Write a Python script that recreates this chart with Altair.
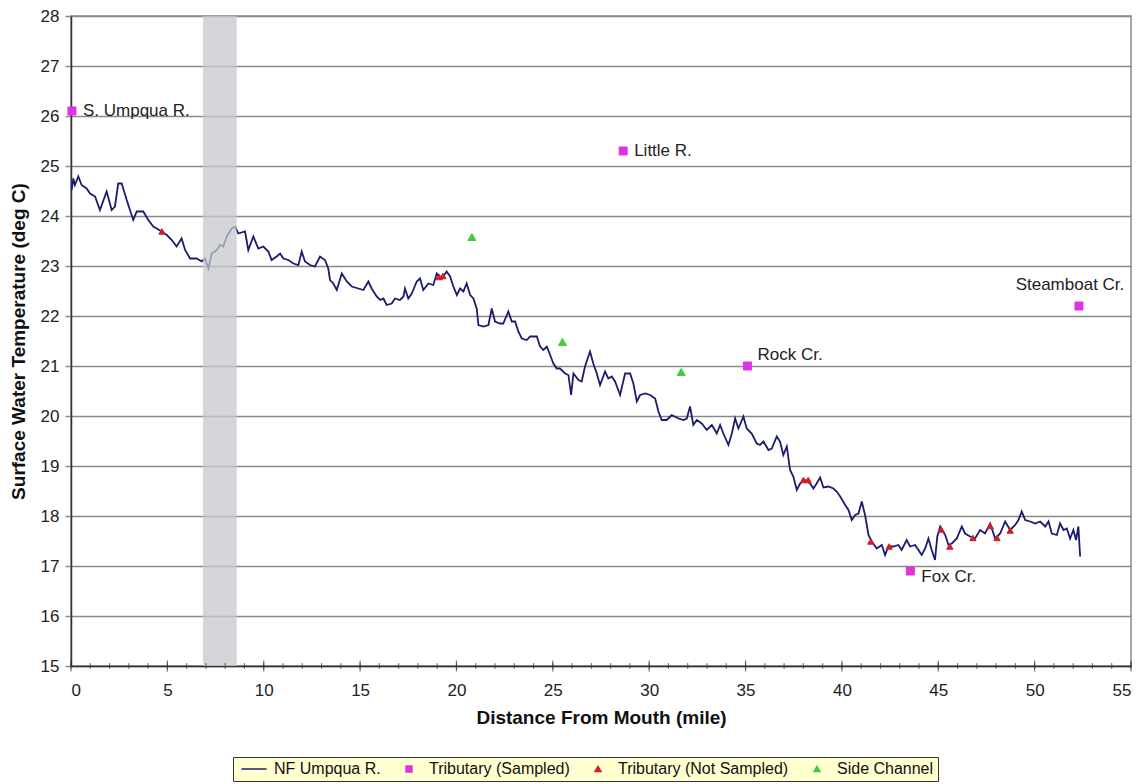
import altair as alt
import pandas as pd

# Longitudinal surface temperature profile along the NF Umpqua (river mile, deg C)
river_mile = [
    0.03, 0.12, 0.2, 0.38, 0.55, 0.81, 0.99, 1.25, 1.5, 1.85, 2.11, 2.28, 2.45, 2.63, 2.89,
    3.06, 3.23, 3.41, 3.75, 4.01, 4.27, 4.45, 4.7, 4.97, 5.23, 5.48, 5.74, 5.92, 6.18, 6.52,
    6.78, 6.95, 7.13, 7.3, 7.56, 7.73, 7.9, 8.08, 8.34, 8.51, 8.68, 9.03,
    9.2, 9.46, 9.72, 9.98, 10.24, 10.41, 10.67, 10.85, 11.02, 11.28, 11.54, 11.8, 11.97, 12.14,
    12.4, 12.66, 12.92, 13.18, 13.35, 13.44, 13.61, 13.79, 14.05, 14.31, 14.57, 14.91, 15.17,
    15.43, 15.6, 15.86, 16.04, 16.21, 16.38, 16.64, 16.81, 17.07, 17.25, 17.33, 17.5, 17.68,
    17.94, 18.11,
    18.28, 18.54, 18.8, 18.98, 19.24, 19.49, 19.67, 19.84, 20.02, 20.19, 20.36, 20.53, 20.71,
    20.88, 21.05, 21.14, 21.4, 21.66, 21.83, 22.0, 22.26, 22.43, 22.69, 22.87, 23.04, 23.21,
    23.39, 23.65, 23.82, 24.17, 24.34, 24.51, 24.69, 24.86, 25.03, 25.2, 25.37, 25.64, 25.81,
    25.95, 26.07, 26.33, 26.5, 26.67, 26.93,
    27.1, 27.28, 27.45, 27.71, 27.88, 28.06, 28.23, 28.49, 28.75, 29.01, 29.18, 29.36, 29.53,
    29.79, 30.05, 30.31, 30.48, 30.65, 30.91, 31.17, 31.52, 31.78, 31.95, 32.12, 32.29, 32.47,
    32.73, 32.99, 33.25, 33.51, 33.68, 33.85, 34.11, 34.29, 34.46, 34.63, 34.89, 35.06, 35.32,
    35.58, 35.75,
    35.93, 36.19, 36.36, 36.62, 36.79, 36.96, 37.14, 37.31, 37.48, 37.66, 37.83, 38.09, 38.35,
    38.52, 38.69, 38.87, 39.04, 39.3, 39.56, 39.73, 39.91, 40.17, 40.34, 40.51, 40.69, 40.86,
    41.03, 41.2, 41.38, 41.55, 41.81, 42.07, 42.24, 42.41, 42.67, 42.93, 43.1, 43.36, 43.54,
    43.8, 43.97, 44.14, 44.32,
    44.49, 44.66, 44.83, 44.95, 45.1, 45.36, 45.53, 45.7, 45.96, 46.22, 46.39, 46.65, 46.91,
    47.17, 47.43, 47.69, 47.95, 48.21, 48.47, 48.73, 48.99, 49.16, 49.33, 49.51, 49.77, 50.03,
    50.29, 50.55, 50.72, 50.89, 51.15, 51.32, 51.5, 51.67, 51.84, 52.01, 52.15, 52.27, 52.36,
]
river_temp = [
    24.52, 24.75, 24.62, 24.79, 24.62, 24.55, 24.45, 24.39, 24.12, 24.49, 24.12, 24.19, 24.65,
    24.65, 24.32, 24.12, 23.92, 24.09, 24.09, 23.92, 23.79, 23.75, 23.69, 23.62, 23.52, 23.39,
    23.55, 23.32, 23.15, 23.15, 23.09, 23.15, 22.95, 23.25, 23.32, 23.42, 23.39, 23.59, 23.75,
    23.79, 23.65, 23.69,
    23.32, 23.59, 23.35, 23.39, 23.29, 23.12, 23.19, 23.25, 23.15, 23.12, 23.05, 23.02, 23.29,
    23.09, 23.02, 22.99, 23.19, 23.12, 22.95, 22.72, 22.65, 22.52, 22.85, 22.69, 22.59, 22.55,
    22.52, 22.69, 22.55, 22.39, 22.32, 22.35, 22.22, 22.25, 22.35, 22.32, 22.39, 22.55, 22.35,
    22.45, 22.69, 22.75,
    22.52, 22.65, 22.62, 22.85, 22.75, 22.89, 22.79, 22.59, 22.42, 22.55, 22.49, 22.65, 22.42,
    22.35, 22.15, 21.82, 21.79, 21.82, 22.15, 21.89, 21.85, 21.85, 22.09, 21.89, 21.89, 21.69,
    21.55, 21.52, 21.59, 21.59, 21.39, 21.32, 21.39, 21.22, 21.05, 20.95, 20.95, 20.85, 20.82,
    20.42, 20.85, 20.72, 20.69, 20.99, 21.29,
    21.05, 20.85, 20.62, 20.89, 20.75, 20.79, 20.69, 20.42, 20.85, 20.85, 20.65, 20.29, 20.42,
    20.45, 20.42, 20.35, 20.09, 19.92, 19.92, 20.02, 19.95, 19.92, 19.95, 20.19, 19.82, 19.92,
    19.85, 19.72, 19.82, 19.65, 19.82, 19.65, 19.42, 19.65, 19.95, 19.75, 19.99, 19.75, 19.65,
    19.45, 19.42,
    19.49, 19.32, 19.35, 19.59, 19.49, 19.22, 19.39, 18.92, 18.79, 18.52, 18.65, 18.72, 18.65,
    18.55, 18.65, 18.77, 18.57, 18.59, 18.55, 18.49, 18.39, 18.22, 18.12, 17.92, 18.02, 18.05,
    18.29, 18.02, 17.62, 17.49, 17.35, 17.42, 17.22, 17.39, 17.39, 17.42, 17.32, 17.52, 17.39,
    17.42, 17.32, 17.22, 17.35,
    17.55, 17.32, 17.12, 17.59, 17.79, 17.62, 17.42, 17.45, 17.55, 17.79, 17.65, 17.59, 17.55,
    17.72, 17.65, 17.85, 17.55, 17.65, 17.89, 17.72, 17.82, 17.92, 18.09, 17.92, 17.89, 17.85,
    17.89, 17.79, 17.89, 17.65, 17.62, 17.85, 17.72, 17.75, 17.55, 17.72, 17.52, 17.79, 17.19,
]

# Sampled tributaries
trib_name = ["S. Umpqua R.", "Little R.", "Rock Cr.", "Fox Cr.", "Steamboat Cr."]
trib_mile = [0.05, 28.65, 35.1, 43.55, 52.3]
trib_temp = [26.1, 25.3, 21.0, 16.9, 22.2]

# Tributaries that were not sampled (plotted on the river profile)
unsampled_mile = [4.72, 19.1, 19.3, 38.0, 38.25, 41.5, 42.45, 45.15, 45.6, 46.8, 47.7, 48.05, 48.73]
unsampled_temp = [23.69, 22.78, 22.8, 18.72, 18.72, 17.49, 17.39, 17.73, 17.39, 17.56, 17.8, 17.56, 17.71]

# Side channels
side_mile = [20.8, 25.5, 31.66]
side_temp = [23.58, 21.48, 20.88]

# Shaded reach
shade_start = [6.85]
shade_end = [8.6]

# Axis ticks
major_ticks = [0, 5, 10, 15, 20, 25, 30, 35, 40, 45, 50, 55]
minor_ticks = list(range(0, 56))
y_ticks = list(range(15, 29))

LINE = "NF Umpqua R."
categories = [LINE, "Tributary (Sampled)", "Tributary (Not Sampled)", "Side Channel"]
colors = ["#1c1c6e", "#e033e0", "#d01f2a", "#3fcc3f"]
shapes = ["M-4.2,0H4.2", "square", "triangle-up", "triangle-up"]

FONT = "Liberation Sans"

river = pd.DataFrame({"mile": river_mile, "temp": river_temp})
tribs = pd.DataFrame({"mile": trib_mile, "temp": trib_temp, "name": trib_name,
                      "type": "Tributary (Sampled)"})
unsampled = pd.DataFrame({"mile": unsampled_mile, "temp": unsampled_temp,
                          "type": "Tributary (Not Sampled)"})
side = pd.DataFrame({"mile": side_mile, "temp": side_temp, "type": "Side Channel"})
shade = pd.DataFrame({"start": shade_start, "end": shade_end})

x_scale = alt.Scale(domain=[0, 55], nice=False, zero=False)
y_scale = alt.Scale(domain=[15, 28], nice=False, zero=False)

x_enc = alt.X("mile:Q", scale=x_scale, title="Distance From Mouth (mile)",
              axis=alt.Axis(values=major_ticks, grid=False, ticks=False, labelPadding=16,
                            titlePadding=10, format="d"))
y_enc = alt.Y("temp:Q", scale=y_scale, title="Surface Water Temperature (deg C)",
              axis=alt.Axis(values=y_ticks, grid=True, gridColor="#8a8a8a", gridWidth=1.5,
                            tickColor="#8a8a8a", tickSize=6, tickWidth=1.5, labelPadding=6,
                            titlePadding=12, format="d"))

legend = alt.Legend(
    title=None, orient="none", legendX=162, legendY=741, direction="horizontal",
    fillColor="#ffffd0", strokeColor="#333333", padding=4, cornerRadius=0,
    labelFont=FONT, labelFontSize=16, labelColor="#111111", labelLimit=400, symbolSize=36,
    symbolStrokeWidth=1.5, symbolOffset=9, labelOffset=12, columnPadding=11,
)
color_enc = alt.Color("type:N", scale=alt.Scale(domain=categories, range=colors), legend=legend)
stroke_enc = alt.Stroke("type:N", scale=alt.Scale(domain=categories, range=colors), legend=legend)
shape_enc = alt.Shape("type:N", scale=alt.Scale(domain=categories, range=shapes), legend=legend)


def symbols(df, size):
    return alt.Chart(df).mark_point(filled=True, opacity=1, size=size, strokeWidth=1).encode(
        x=x_enc, y=y_enc, color=color_enc, stroke=stroke_enc, shape=shape_enc
    )


line = alt.Chart(river).mark_line(color=colors[0], strokeWidth=1.8).encode(x=x_enc, y=y_enc)

band = alt.Chart(shade).mark_rect(color="#c6c8cc", opacity=0.75).encode(
    x="start:Q", x2="end:Q", y=alt.datum(28), y2=alt.datum(15)
)

minor = alt.Chart(pd.DataFrame({"mile": minor_ticks})).mark_tick(
    orient="vertical", size=6, thickness=1, color="#333333"
).encode(x=alt.X("mile:Q", scale=x_scale), y=alt.datum(15))
major = alt.Chart(pd.DataFrame({"mile": major_ticks})).mark_tick(
    orient="vertical", size=11, thickness=1.2, color="#333333"
).encode(x=alt.X("mile:Q", scale=x_scale), y=alt.datum(15))


def labels(names, **style):
    return alt.Chart(tribs).transform_filter(
        alt.FieldOneOfPredicate(field="name", oneOf=names)
    ).mark_text(font=FONT, fontSize=17, color="#222222", **style).encode(
        x=alt.X("mile:Q", scale=x_scale), y=alt.Y("temp:Q", scale=y_scale), text="name:N"
    )


label_layers = [
    labels(["S. Umpqua R.", "Little R."], align="left", baseline="middle", dx=11),
    labels(["Rock Cr."], align="left", baseline="middle", dx=10, dy=-11),
    labels(["Fox Cr."], align="left", baseline="middle", dx=11, dy=6),
    labels(["Steamboat Cr."], align="center", baseline="middle", dx=-9, dy=-21),
]

chart = alt.layer(
    line,
    band,
    minor,
    major,
    symbols(unsampled, 40),
    symbols(side, 64),
    symbols(tribs, 64),
    *label_layers,
).properties(
    width=1060,
    height=650,
    autosize=alt.AutoSizeParams(type="none"),
    padding={"left": 71, "top": 16, "right": 15, "bottom": 118},
    background="white",
).configure_axis(
    labelFont=FONT, labelFontSize=17, labelColor="#222222",
    titleFont=FONT, titleFontSize=19, titleFontWeight="bold", titleColor="#111111",
    domainColor="#333333", domainWidth=1.5,
).configure_view(stroke="#8a8a8a", strokeWidth=1.5)

chart.save("out.html", embed_options={"renderer": "svg", "actions": False})
